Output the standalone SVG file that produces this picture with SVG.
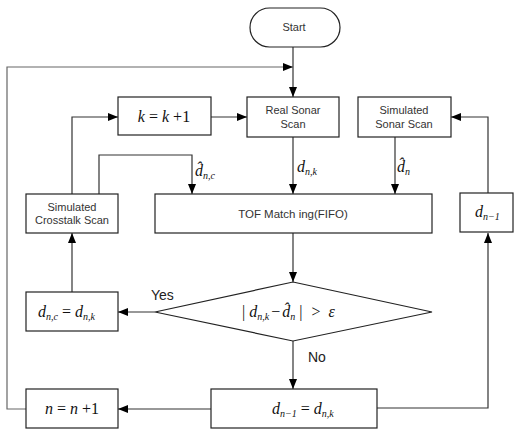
<svg xmlns="http://www.w3.org/2000/svg" width="514" height="431" viewBox="0 0 514 431">
<style>
.box{fill:#fff;stroke:#222;stroke-width:1.2}
.ln{fill:none;stroke:#333;stroke-width:1.2}
.lbl{font-family:"Liberation Sans",Arial,sans-serif;font-size:11px;fill:#333;text-anchor:middle}
.yn{font-family:"Liberation Sans",Arial,sans-serif;font-size:14px;fill:#222}
.m{font-family:"Liberation Serif","Times New Roman",serif;font-size:16px;fill:#111;font-style:italic}
.s{font-size:10px}
.u{font-style:normal}
</style>
<defs>
<marker id="ah" markerWidth="10" markerHeight="8" refX="10" refY="4" orient="auto" markerUnits="userSpaceOnUse">
<path d="M0,0 L10,4 L0,8 Z" fill="#000"/>
</marker>
</defs>
<g id="connectors">
<path class="ln" d="M293,47 V97" marker-end="url(#ah)"/>
<path class="ln" style="stroke:#666" d="M26,409 H7 V67 H293" marker-end="url(#ah)"/>
<path class="ln" d="M211,117 H247" marker-end="url(#ah)"/>
<path class="ln" d="M72,194 V117 H118" marker-end="url(#ah)"/>
<path class="ln" d="M99,194 V155 H192 V194" marker-end="url(#ah)"/>
<path class="ln" d="M293,137 V194" marker-end="url(#ah)"/>
<path class="ln" d="M395,137 V194" marker-end="url(#ah)"/>
<path class="ln" d="M293,233 V282" marker-end="url(#ah)"/>
<path class="ln" d="M155,312 H118" marker-end="url(#ah)"/>
<path class="ln" d="M72,292 V233" marker-end="url(#ah)"/>
<path class="ln" d="M293,341 V389" marker-end="url(#ah)"/>
<path class="ln" d="M211,409 H118" marker-end="url(#ah)"/>
<path class="ln" d="M377,408 H488 V233" marker-end="url(#ah)"/>
<path class="ln" d="M488,193 V117 H451" marker-end="url(#ah)"/>
<text class="m" x="297" y="172">d<tspan class="s" dy="3">n,k</tspan></text>
<text class="m" x="397" y="172">d̂<tspan class="s" dy="3">n</tspan></text>
<text class="m" x="195" y="176">d̂<tspan class="s" dy="3">n,c</tspan></text>
<text class="yn" x="151" y="300">Yes</text>
<text class="yn" x="308" y="362">No</text>
</g>
<g id="start">
<rect class="box" x="250" y="8" width="90" height="39" rx="19.5"/>
<text class="lbl" x="294" y="31">Start</text>
</g>
<g id="real-sonar">
<rect class="box" x="247" y="97" width="92" height="40"/>
<text class="lbl" x="293" y="114">Real Sonar</text>
<text class="lbl" x="293" y="128">Scan</text>
</g>
<g id="sim-sonar">
<rect class="box" x="358" y="97" width="93" height="40"/>
<text class="lbl" x="404" y="114">Simulated</text>
<text class="lbl" x="404" y="128">Sonar Scan</text>
</g>
<g id="k-inc">
<rect class="box" x="118" y="97" width="93" height="38"/>
<text class="m" x="164" y="122" text-anchor="middle">k <tspan class="u">=</tspan> k <tspan class="u">+1</tspan></text>
</g>
<g id="crosstalk">
<rect class="box" x="26" y="194" width="92" height="39"/>
<text class="lbl" x="72" y="211">Simulated</text>
<text class="lbl" x="72" y="224">Crosstalk Scan</text>
</g>
<g id="tof">
<rect class="box" x="155" y="194" width="277" height="39"/>
<text class="lbl" x="293" y="218" style="font-size:11.5px">TOF Match ing(FIFO)</text>
</g>
<g id="dprev">
<rect class="box" x="460" y="193" width="53" height="39"/>
<text class="m" x="475" y="217">d<tspan class="s" dy="3">n−1</tspan></text>
</g>
<g id="decision">
<path class="box" d="M293,282 L432,312 L293,341 L155,312 Z"/>
<text class="m" x="242" y="317"><tspan class="u">|</tspan><tspan dx="4">d</tspan><tspan class="s" dy="3">n,k</tspan><tspan dy="-3" class="u" dx="2">−</tspan><tspan dx="2">d̂</tspan><tspan class="s" dy="3">n</tspan><tspan dy="-3" class="u" dx="4">|</tspan><tspan class="u" dx="9">&gt;</tspan><tspan dx="8">ε</tspan></text>
</g>
<g id="dnc">
<rect class="box" x="26" y="292" width="92" height="39"/>
<text class="m" x="38" y="317">d<tspan class="s" dy="3">n,c</tspan><tspan dy="-3" class="u"> = </tspan>d<tspan class="s" dy="3">n,k</tspan></text>
</g>
<g id="n-inc">
<rect class="box" x="26" y="389" width="92" height="39"/>
<text class="m" x="72" y="414" text-anchor="middle">n <tspan class="u">=</tspan> n <tspan class="u">+1</tspan></text>
</g>
<g id="dupdate">
<rect class="box" x="211" y="389" width="166" height="39"/>
<text class="m" x="272" y="414">d<tspan class="s" dy="3">n−1</tspan><tspan dy="-3" class="u"> = </tspan>d<tspan class="s" dy="3">n,k</tspan></text>
</g>
</svg>
